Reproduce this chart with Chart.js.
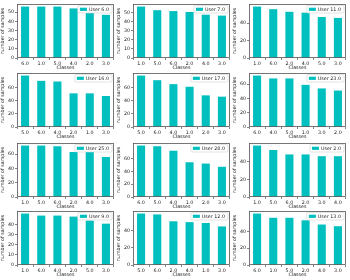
<!DOCTYPE html>
<html><head><meta charset="utf-8">
<script src="https://cdn.jsdelivr.net/npm/chart.js@4.4.0/dist/chart.umd.min.js"></script>
<style>
html,body{margin:0;padding:0;background:#fff;width:350px;height:280px;overflow:hidden;position:relative}
canvas{position:absolute}
</style></head><body>
<script>
// ---- data ----
const user6Classes = ["6.0","1.0","5.0","4.0","2.0","3.0"];
const user6Counts  = [56,56,56,54,49,47];
const user7Classes = ["1.0","5.0","6.0","2.0","4.0","3.0"];
const user7Counts  = [57,53,52,51,48,47];
const user11Classes = ["1.0","6.0","2.0","4.0","5.0","3.0"];
const user11Counts  = [59,56,53,52,47,46];
const user16Classes = ["5.0","6.0","4.0","2.0","1.0","3.0"];
const user16Counts  = [78,70,69,51,51,47];
const user17Classes = ["5.0","6.0","4.0","1.0","2.0","3.0"];
const user17Counts  = [78,71,65,61,48,46];
const user23Classes = ["6.0","4.0","5.0","1.0","3.0","2.0"];
const user23Counts  = [72,68,68,59,54,51];
const user25Classes = ["1.0","5.0","6.0","2.0","4.0","3.0"];
const user25Counts  = [72,72,71,63,63,56];
const user28Classes = ["6.0","5.0","4.0","1.0","2.0","3.0"];
const user28Counts  = [80,79,72,54,52,47];
const user2Classes = ["1.0","5.0","6.0","2.0","3.0","4.0"];
const user2Counts  = [58,53,48,48,46,46];
const user9Classes = ["1.0","6.0","4.0","2.0","5.0","3.0"];
const user9Counts  = [51,49,49,48,44,41];
const user12Classes = ["5.0","6.0","2.0","4.0","1.0","3.0"];
const user12Counts  = [60,59,51,50,49,45];
const user13Classes = ["6.0","1.0","5.0","2.0","4.0","3.0"];
const user13Counts  = [61,56,56,53,48,46];

const panelNames = ["User 6.0","User 7.0","User 11.0","User 16.0","User 17.0","User 23.0",
                    "User 25.0","User 28.0","User 2.0","User 9.0","User 12.0","User 13.0"];
const panelClasses = [user6Classes,user7Classes,user11Classes,user16Classes,user17Classes,user23Classes,
                      user25Classes,user28Classes,user2Classes,user9Classes,user12Classes,user13Classes];
const panelCounts = [user6Counts,user7Counts,user11Counts,user16Counts,user17Counts,user23Counts,
                     user25Counts,user28Counts,user2Counts,user9Counts,user12Counts,user13Counts];

// ---- layout ----
const axLefts = [17,133,249];
const axTops = [4,73,143,211];
const AXW = 97, AXH = 54, PADL = 17, PADT = 4, PADR = 3, PADB = 13;
const BAR = '#00bfbf';
const FONT = {family:'DejaVu Sans', size:4.8};

const framePlugin = {
  id:'frame',
  afterDraw(chart){
    const a = chart.chartArea, c = chart.ctx;
    c.save();
    c.strokeStyle = '#555'; c.lineWidth = 0.8;
    c.strokeRect(Math.round(a.left)+0.5, Math.round(a.top)+0.5,
                 Math.round(a.right-a.left)-1, Math.round(a.bottom-a.top)-1);
    // legend
    const name = chart.data.datasets[0].label;
    c.font = '4.8px "DejaVu Sans"';
    const tw = c.measureText(name).width;
    const bw = tw + 14, bh = 7.5;
    const bx = a.right - 2 - bw, by = a.top + 1.5;
    c.fillStyle = 'rgba(255,255,255,0.85)';
    c.strokeStyle = '#d0d0d0'; c.lineWidth = 0.6;
    c.beginPath();
    if (c.roundRect) c.roundRect(bx, by, bw, bh, 1); else c.rect(bx,by,bw,bh);
    c.fill(); c.stroke();
    c.fillStyle = BAR;
    c.fillRect(bx + 2, by + 2.2, 7, 3.2);
    c.fillStyle = '#222';
    c.textBaseline = 'middle';
    c.fillText(name, bx + 11, by + bh/2 + 0.2);
    c.restore();
  }
};

for (let i = 0; i < 12; i++) {
  const col = i % 3, row = Math.floor(i / 3);
  const cv = document.createElement('canvas');
  const W = PADL + AXW + PADR, H = PADT + AXH + PADB;
  cv.width = W; cv.height = H;
  cv.style.left = (axLefts[col] - PADL) + 'px';
  cv.style.top = (axTops[row] - PADT) + 'px';
  cv.style.width = W + 'px'; cv.style.height = H + 'px';
  document.body.appendChild(cv);
  const vals = panelCounts[i];
  const top = Math.max(...vals) * 1.05;
  const step = top < 60 ? 10 : 20;
  new Chart(cv, {
    type:'bar',
    data:{labels:panelClasses[i], datasets:[{label:panelNames[i], data:vals,
      backgroundColor:BAR, borderWidth:0, categoryPercentage:1, barPercentage:0.5}]},
    options:{
      responsive:false, animation:false, devicePixelRatio:1,
      layout:{padding:{top:PADT,right:PADR,left:0,bottom:0}},
      plugins:{legend:{display:false}, tooltip:{enabled:false}},
      scales:{
        x:{
          afterFit(s){ s.height = PADB; },
          grid:{display:true, drawOnChartArea:false, drawTicks:true, tickLength:2, color:'#333', lineWidth:0.6},
          border:{display:false},
          ticks:{font:FONT, color:'#222', padding:0.5, maxRotation:0, autoSkip:false},
          title:{display:true, text:'Classes', font:FONT, color:'#222', padding:{top:0,bottom:0}}
        },
        y:{
          min:0, max:top,
          afterFit(s){ s.width = PADL; },
          afterBuildTicks(s){ s.ticks = s.ticks.filter(t => t.value % step === 0); },
          grid:{display:true, drawOnChartArea:false, drawTicks:true, tickLength:2, color:'#333', lineWidth:0.6},
          border:{display:false},
          ticks:{font:FONT, color:'#222', padding:1, stepSize:step},
          title:{display:true, text:'number of samples', font:FONT, color:'#222', padding:{top:0,bottom:1}}
        }
      }
    },
    plugins:[framePlugin]
  });
}
</script>
</body></html>
